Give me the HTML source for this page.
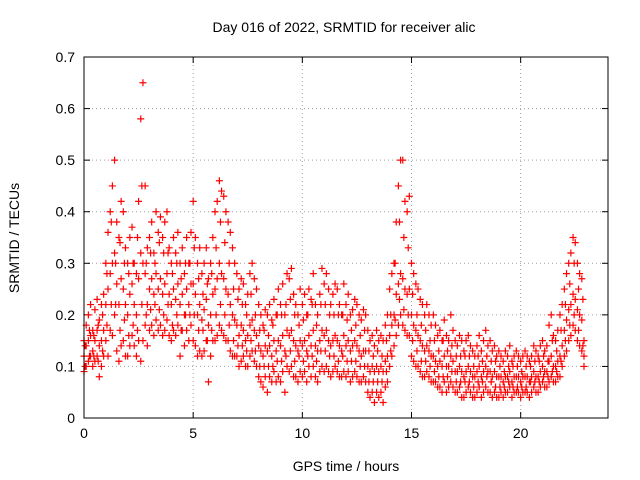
<!DOCTYPE html>
<html><head><meta charset="utf-8"><style>
body{margin:0;background:#fff}
svg{display:block;font-family:"Liberation Sans",sans-serif}
</style></head><body>
<svg id="c" width="640" height="480">
<rect x="0" y="0" width="640" height="480" fill="#fff"/>
<text x="344" y="32" text-anchor="middle" font-size="14">Day 016 of 2022, SRMTID for receiver alic</text>
<text x="346" y="471" text-anchor="middle" font-size="14">GPS time / hours</text>
<text transform="translate(19,238) rotate(-90)" text-anchor="middle" font-size="14">SRMTID / TECUs</text>
<g id="grid"></g>
<g id="ticks"></g>
<g id="pts"></g>
<rect x="84" y="57" width="524" height="361" fill="none" stroke="#000" stroke-width="1"/>
</svg>
<script>
const xTicks=[0,5,10,15,20];
const yTicks=[0,0.1,0.2,0.3,0.4,0.5,0.6,0.7];
const yTickLabels=["0","0.1","0.2","0.3","0.4","0.5","0.6","0.7"];
const timeStep=0.1;
const quarterStep=0.2;
const quarterStart=0.05;
const hiVals=[.15,.18,.2,.22,.17,.21,.23,.19,.22,.24,.3,.36,.4,.45,.5,.38,.35,.42,.4,.33,.3,.35,.37,.3,.28,.42,.58,.65,.45,.33,.35,.38,.32,.4,.36,.39,.35,.38,.4,.33,.3,.35,.32,.36,.3,.33,.28,.35,.3,.36,.42,.35,.3,.33,.28,.3,.33,.27,.3,.35,.4,.42,.46,.44,.43,.4,.38,.36,.33,.3,.28,.25,.27,.26,.22,.24,.28,.3,.27,.25,.22,.2,.18,.21,.2,.22,.19,.23,.2,.25,.22,.26,.2,.28,.27,.29,.24,.22,.2,.25,.22,.24,.2,.25,.23,.28,.22,.2,.24,.29,.26,.28,.25,.22,.24,.26,.25,.22,.2,.26,.22,.24,.2,.21,.23,.22,.2,.19,.21,.2,.17,.15,.16,.14,.17,.15,.16,.15,.18,.2,.25,.28,.3,.38,.45,.5,.5,.42,.4,.43,.3,.28,.26,.25,.23,.22,.2,.22,.2,.18,.2,.18,.16,.17,.15,.19,.16,.15,.2,.17,.15,.14,.16,.15,.13,.15,.16,.14,.13,.12,.14,.16,.13,.15,.17,.14,.15,.13,.14,.12,.13,.12,.11,.13,.12,.14,.11,.12,.13,.12,.11,.12,.13,.12,.11,.12,.14,.13,.12,.14,.15,.13,.14,.18,.2,.16,.15,.17,.2,.22,.25,.28,.3,.32,.35,.34,.3,.28,.27,.15];
const midVals=[.12,.14,.15,.16,.13,.15,.17,.14,.15,.17,.22,.25,.28,.3,.32,.26,.22,.27,.25,.22,.2,.24,.26,.22,.2,.27,.32,.3,.28,.22,.25,.27,.24,.28,.25,.27,.24,.26,.28,.24,.22,.25,.23,.26,.22,.24,.2,.25,.22,.26,.26,.24,.2,.22,.19,.21,.23,.18,.2,.24,.25,.27,.3,.28,.27,.25,.24,.22,.2,.19,.18,.16,.18,.17,.15,.16,.18,.19,.17,.16,.14,.13,.12,.14,.13,.14,.12,.15,.13,.15,.14,.16,.13,.17,.16,.17,.15,.14,.13,.15,.14,.15,.13,.16,.14,.17,.14,.13,.15,.17,.16,.17,.15,.14,.15,.16,.15,.14,.13,.16,.14,.15,.13,.14,.15,.14,.13,.12,.13,.13,.1,.09,.1,.09,.1,.09,.1,.09,.11,.12,.16,.18,.2,.24,.26,.28,.27,.25,.24,.25,.2,.18,.17,.16,.15,.14,.13,.14,.13,.12,.12,.11,.1,.11,.1,.12,.1,.1,.12,.11,.09,.09,.1,.09,.08,.09,.1,.09,.08,.08,.09,.1,.08,.09,.1,.09,.09,.08,.09,.08,.08,.08,.07,.08,.08,.09,.07,.08,.08,.08,.07,.08,.08,.08,.07,.08,.09,.08,.08,.09,.1,.09,.09,.11,.12,.1,.1,.11,.12,.14,.17,.19,.21,.22,.24,.23,.21,.2,.19,.12];
const loVals=[.09,.1,.11,.12,.1,.11,.12,.08,.1,.12,.15,.12,.17,.16,.2,.13,.11,.14,.15,.12,.12,.14,.16,.14,.12,.15,.11,.15,.18,.14,.17,.18,.16,.19,.17,.18,.16,.17,.19,.16,.15,.17,.16,.18,.12,.17,.14,.17,.15,.18,.15,.14,.12,.13,.12,.13,.15,.07,.12,.15,.15,.16,.18,.17,.16,.15,.15,.13,.12,.12,.12,.1,.11,.12,.1,.1,.12,.13,.11,.1,.08,.07,.06,.08,.05,.08,.07,.09,.07,.08,.07,.09,.05,.1,.09,.1,.08,.08,.07,.09,.08,.09,.07,.1,.08,.1,.08,.07,.09,.1,.09,.1,.09,.08,.09,.1,.09,.08,.08,.09,.08,.09,.07,.08,.09,.08,.07,.07,.08,.07,.05,.04,.05,.03,.05,.04,.05,.03,.06,.07,.1,.12,.14,.16,.18,.2,.18,.17,.16,.16,.12,.11,.1,.1,.09,.08,.08,.09,.08,.07,.07,.07,.06,.06,.05,.07,.05,.06,.07,.06,.05,.05,.06,.04,.04,.05,.06,.05,.04,.04,.05,.06,.04,.05,.06,.05,.05,.04,.05,.04,.04,.05,.04,.05,.05,.06,.04,.05,.05,.05,.04,.05,.05,.05,.04,.05,.06,.05,.05,.06,.07,.06,.06,.07,.08,.07,.07,.08,.08,.1,.12,.13,.15,.16,.18,.17,.15,.14,.13,.1];
const upperQVals=[.14,.17,.16,.18,.2,.28,.38,.3,.34,.3,.28,.3,.35,.45,.3,.32,.3,.34,.32,.32,.28,.3,.27,.3,.3,.33,.27,.24,.26,.28,.33,.38,.34,.3,.25,.23,.22,.2,.24,.2,.17,.17,.16,.18,.2,.2,.22,.23,.2,.18,.19,.2,.22,.18,.22,.22,.2,.2,.2,.2,.19,.17,.18,.16,.17,.13,.12,.13,.12,.15,.2,.3,.38,.35,.33,.24,.2,.18,.17,.15,.15,.13,.15,.13,.14,.12,.12,.12,.12,.1,.12,.11,.12,.11,.11,.1,.09,.1,.1,.1,.09,.1,.1,.11,.11,.12,.11,.15,.13,.17,.22,.26,.3,.25,.23];
const lowerQVals=[.1,.12,.12,.11,.13,.18,.22,.22,.17,.19,.16,.18,.17,.22,.2,.21,.22,.21,.2,.22,.18,.2,.17,.2,.2,.2,.17,.17,.15,.17,.2,.22,.2,.18,.15,.14,.14,.13,.15,.13,.1,.1,.1,.1,.11,.11,.12,.13,.11,.12,.11,.12,.12,.11,.13,.13,.12,.12,.11,.12,.11,.11,.11,.1,.1,.07,.07,.07,.07,.09,.13,.19,.23,.21,.2,.15,.13,.11,.11,.1,.09,.08,.08,.08,.09,.07,.07,.07,.07,.06,.07,.07,.08,.07,.06,.06,.06,.07,.06,.06,.06,.06,.07,.07,.07,.08,.08,.09,.09,.11,.15,.18,.2,.17,.14];
const X0=84,X1=608,Y0=418,Y1=57;
const xs=v=>X0+v/24*(X1-X0);
const ys=v=>Y0-v/0.7*(Y0-Y1);
const NS="http://www.w3.org/2000/svg";
const grid=document.getElementById('grid'),ticks=document.getElementById('ticks'),pts=document.getElementById('pts');
function mk(tag,a,parent){const e=document.createElementNS(NS,tag);for(const k in a)e.setAttribute(k,a[k]);parent.appendChild(e);return e;}
xTicks.forEach(t=>{
  const x=xs(t);
  if(t>0){const g=mk('line',{x1:x,x2:x,y1:Y1,y2:Y0,stroke:'#a0a0a0','stroke-dasharray':'1,3'},grid);
  
  }
  mk('line',{x1:x,x2:x,y1:Y0,y2:Y0-6,stroke:'#000'},ticks);
  mk('line',{x1:x,x2:x,y1:Y1,y2:Y1+6,stroke:'#000'},ticks);
  const l=mk('text',{x:x,y:Y0+20,'text-anchor':'middle','font-size':14},ticks);l.textContent=t;
  
  
});
yTicks.forEach((t,i)=>{
  const y=ys(t);
  if(i>0&&i<yTicks.length-1){const g=mk('line',{x1:X0,x2:X1,y1:y,y2:y,stroke:'#a0a0a0','stroke-dasharray':'1,3'},grid);
  
  }
  mk('line',{x1:X0,x2:X0+6,y1:y,y2:y,stroke:'#000'},ticks);
  mk('line',{x1:X1,x2:X1-6,y1:y,y2:y,stroke:'#000'},ticks);
  const l=mk('text',{x:X0-9,y:y+5,'text-anchor':'end','font-size':14},ticks);l.textContent=yTickLabels[i];
  
  
});
let d='';
function plus(t,v){const x=xs(t),y=ys(v);d+=`M${x-3.5},${y}h7M${x},${y-3.5}v7`;}
[hiVals,midVals,loVals].forEach(arr=>arr.forEach((v,i)=>plus(i*timeStep,v)));
[upperQVals,lowerQVals].forEach(arr=>arr.forEach((v,i)=>plus(quarterStart+i*quarterStep,v)));
const p=mk('path',{d:d,stroke:'#ff0000','stroke-width':1.2,fill:'none'},pts);


</script>
</body></html>
